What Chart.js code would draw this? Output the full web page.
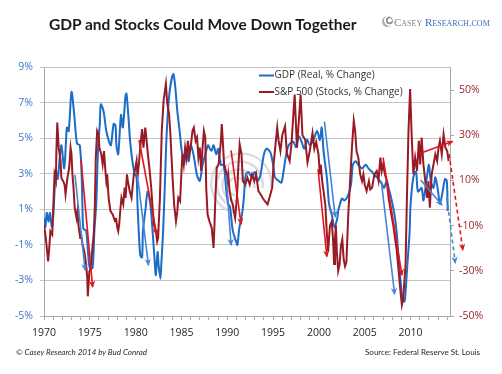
<!DOCTYPE html>
<html>
<head>
<meta charset="utf-8">
<script src="https://cdn.jsdelivr.net/npm/chart.js@4.4.0/dist/chart.umd.min.js"></script>
<style>
  html, body { margin: 0; padding: 0; background: #fff; }
  #wrap { position: relative; width: 502px; height: 374px; overflow: hidden; }
  #chart { position: absolute; left: 0; top: 0; }
  .title { position: absolute; left: 49px; top: 15px; font: bold 15.5px Lato, sans-serif; color: #1a1a1a; white-space: nowrap; }
  .logo { position: absolute; left: 382px; top: 16px; white-space: nowrap; font: 11px "Liberation Serif", serif; font-variant: small-caps; }
  .logo .swirl { display: inline-block; width: 11px; height: 11px; border-radius: 50%; vertical-align: -1px; margin-right: 1px;
    background: radial-gradient(circle at 70% 40%, #fff 0 18%, #9a9a9a 22% 38%, #fff 42% 52%, #b0b0b0 56% 100%); }
  .logo .c1 { color: #7f7f7f; }
  .logo .c2 { color: #3d6fb8; }
  .foot { position: absolute; top: 347px; font: 8px Lato, sans-serif; color: #262626; white-space: nowrap; }
  .foot.left { left: 16px; font-style: italic; }
  .foot.right { right: 22px; }
</style>
</head>
<body>
<div id="wrap">
  <canvas id="chart" width="502" height="374"></canvas>
  <div class="title">GDP and Stocks Could Move Down Together</div>
  <div class="logo"><span class="swirl"></span><span class="c1">Casey</span> <span class="c2">Research.com</span></div>
  <div class="foot left">© Casey Research 2014 by Bud Conrad</div>
  <div class="foot right">Source: Federal Reserve St. Louis</div>
</div>
<script>
"use strict";

// Values (year, % change)
const SERIES_LABELS = ["GDP (Real, % Change)", "S&P 500 (Stocks, % Change)"];

const GDP_YEARS = [
  1970.0, 1970.15, 1970.3, 1970.5, 1970.65, 1970.85, 1971.0, 1971.2, 1971.3, 1971.5,
  1971.7, 1971.9, 1972.2, 1972.4, 1972.5, 1972.7, 1973.0, 1973.3, 1973.6, 1973.9,
  1974.1, 1974.2, 1974.3, 1974.6, 1974.8, 1975.0, 1975.3, 1975.5, 1975.7, 1975.9,
  1976.1, 1976.2, 1976.5, 1976.8, 1977.1, 1977.3, 1977.6, 1977.8, 1977.9, 1978.1,
  1978.4, 1978.6, 1978.9, 1979.0, 1979.2, 1979.4, 1979.7, 1979.9, 1980.1, 1980.2,
  1980.5, 1980.7, 1980.8, 1981.1, 1981.3, 1981.6, 1981.9, 1982.1, 1982.2, 1982.4,
  1982.5, 1982.7, 1982.8, 1983.0, 1983.2, 1983.4, 1983.7, 1984.1, 1984.3, 1984.55,
  1984.8, 1985.0, 1985.3, 1985.5, 1985.8, 1986.0, 1986.3, 1986.7, 1987.0, 1987.3,
  1987.6, 1987.9, 1988.1, 1988.3, 1988.5, 1988.8, 1989.0, 1989.3, 1989.6, 1989.9,
  1990.1, 1990.3, 1990.6, 1990.95, 1991.1, 1991.3, 1991.6, 1991.8, 1992.0, 1992.3,
  1992.7, 1993.0, 1993.3, 1993.6, 1994.0, 1994.3, 1994.7, 1995.0, 1995.2, 1995.6,
  1995.9, 1996.1, 1996.4, 1996.7, 1997.2, 1997.5, 1997.8, 1998.1, 1998.4, 1998.7,
  1999.0, 1999.4, 1999.8, 2000.1, 2000.3, 2000.5, 2000.9, 2001.1, 2001.4, 2001.7,
  2002.0, 2002.1, 2002.3, 2002.5, 2002.8, 2003.2, 2003.5, 2003.7, 2004.0, 2004.3,
  2004.7, 2005.1, 2005.4, 2005.8, 2006.1, 2006.5, 2006.9, 2007.1, 2007.4, 2007.6,
  2007.9, 2008.1, 2008.3, 2008.5, 2008.7, 2008.9, 2009.1, 2009.3, 2009.4, 2009.65,
  2009.9, 2010.0, 2010.3, 2010.6, 2010.8, 2011.2, 2011.4, 2011.8, 2012.0, 2012.2,
  2012.5, 2012.7, 2013.0, 2013.2, 2013.5, 2013.75, 2013.95, 2014.05
];
const GDP_VALUES = [
  0.5, 0.0, 0.8, 0.3, 0.8, 0.0, 0.6, 2.5, 3.2, 2.7,
  3.8, 4.6, 3.3, 4.8, 5.6, 5.4, 7.6, 6.3, 4.7, 4.6,
  3.0, 1.1, -0.1, -0.2, -1.4, -2.3, -2.3, -0.2, 1.3, 4.4,
  5.9, 6.9, 6.5, 5.4, 4.8, 4.6, 5.8, 5.7, 4.6, 4.1,
  6.3, 5.6, 7.4, 7.5, 6.3, 4.8, 3.5, 3.0, 2.8, 1.3,
  -1.6, -1.7, -0.2, 1.1, 2.0, 1.3, -0.6, -2.1, -2.7, -1.4,
  -2.1, -2.9, -2.1, -0.2, 2.6, 5.4, 7.6, 8.6, 8.0, 6.5,
  5.4, 4.4, 3.5, 4.4, 3.7, 4.6, 4.1, 2.9, 2.6, 3.5,
  4.1, 4.6, 4.4, 4.3, 4.6, 4.1, 4.4, 3.5, 3.5, 2.0,
  1.3, 1.1, -0.2, -0.8, -1.0, -0.1, 0.7, 1.6, 2.9, 3.1,
  2.8, 3.1, 2.6, 2.9, 4.1, 4.4, 4.2, 3.5, 2.8, 2.6,
  2.5, 3.0, 4.0, 4.6, 4.8, 4.5, 5.1, 4.8, 4.4, 4.9,
  4.6, 4.9, 5.4, 4.9, 5.6, 4.3, 2.6, 1.3, 0.7, 0.0,
  0.5, 0.9, 1.3, 1.6, 1.5, 1.8, 2.4, 3.5, 3.7, 3.5,
  3.3, 3.5, 3.3, 3.1, 2.9, 2.7, 2.4, 2.2, 2.6, 2.2,
  1.6, 1.1, 0.5, -0.4, -1.8, -3.0, -4.0, -4.2, -4.0, -2.1,
  -0.2, 1.3, 2.8, 3.1, 2.0, 2.2, 1.5, 2.9, 3.5, 2.6,
  2.2, 2.8, 2.0, 1.3, 2.0, 2.7, 2.6, 0.9
];

const SP_YEARS = [
  1970.0, 1970.2, 1970.45, 1970.55, 1970.7, 1970.9, 1971.0, 1971.15, 1971.3, 1971.35,
  1971.45, 1971.6, 1971.8, 1971.9, 1972.1, 1972.25, 1972.35, 1972.55, 1972.75, 1972.9,
  1973.0, 1973.1, 1973.2, 1973.35, 1973.55, 1973.65, 1973.75, 1973.95, 1974.0, 1974.2,
  1974.4, 1974.6, 1974.72, 1974.78, 1974.95, 1975.1, 1975.25, 1975.45, 1975.55, 1975.65,
  1975.8, 1975.95, 1976.05, 1976.25, 1976.4, 1976.55, 1976.7, 1976.8, 1976.9, 1977.05,
  1977.25, 1977.5, 1977.75, 1977.85, 1978.0, 1978.1, 1978.2, 1978.35, 1978.45, 1978.65,
  1978.8, 1978.9, 1979.05, 1979.15, 1979.35, 1979.55, 1979.8, 1979.9, 1980.1, 1980.2,
  1980.35, 1980.5, 1980.7, 1980.85, 1981.05, 1981.2, 1981.3, 1981.5, 1981.7, 1981.8,
  1982.0, 1982.2, 1982.35, 1982.45, 1982.65, 1982.85, 1983.05, 1983.3, 1983.45, 1983.65,
  1983.8, 1983.9, 1984.05, 1984.2, 1984.4, 1984.55, 1984.65, 1984.85, 1984.95, 1985.1,
  1985.25, 1985.4, 1985.55, 1985.7, 1985.85, 1986.0, 1986.2, 1986.35, 1986.55, 1986.7,
  1986.85, 1987.0, 1987.15, 1987.3, 1987.45, 1987.6, 1987.7, 1987.85, 1988.05, 1988.3,
  1988.5, 1988.6, 1988.7, 1988.85, 1989.05, 1989.2, 1989.3, 1989.4, 1989.55, 1989.65,
  1989.85, 1990.0, 1990.1, 1990.25, 1990.45, 1990.6, 1990.7, 1990.85, 1991.05, 1991.2,
  1991.35, 1991.55, 1991.7, 1991.95, 1992.2, 1992.45, 1992.7, 1992.95, 1993.15, 1993.4,
  1993.65, 1993.85, 1994.1, 1994.4, 1994.6, 1994.9, 1995.05, 1995.3, 1995.45, 1995.6,
  1995.8, 1996.0, 1996.3, 1996.5, 1996.8, 1997.0, 1997.35, 1997.6, 1997.8, 1998.0,
  1998.2, 1998.5, 1998.75, 1999.0, 1999.3, 1999.5, 1999.7, 1999.95, 2000.1, 2000.2,
  2000.35, 2000.5, 2000.7, 2000.85, 2001.0, 2001.2, 2001.4, 2001.55, 2001.65, 2001.75,
  2001.85, 2001.95, 2002.1, 2002.25, 2002.4, 2002.55, 2002.7, 2002.85, 2003.0, 2003.2,
  2003.4, 2003.6, 2003.8, 2003.95, 2004.1, 2004.3, 2004.5, 2004.7, 2004.85, 2005.0,
  2005.2, 2005.45, 2005.6, 2005.8, 2006.05, 2006.3, 2006.5, 2006.7, 2006.85, 2007.0,
  2007.2, 2007.4, 2007.6, 2007.9, 2008.1, 2008.3, 2008.5, 2008.7, 2008.9, 2009.05,
  2009.2, 2009.45, 2009.6, 2009.77, 2009.95, 2010.1, 2010.3, 2010.5, 2010.7, 2010.9,
  2011.05, 2011.2, 2011.4, 2011.6, 2011.8, 2011.95, 2012.1, 2012.3, 2012.5, 2012.7,
  2012.9, 2013.05, 2013.2, 2013.4, 2013.6, 2013.8, 2014.0, 2014.15
];
const SP_VALUES = [
  -9.6, -15.5, -25.8, -21, -12.5, -14, -3.6, 12.7, 10, 23,
  35.6, 24.5, 19, 11, 9.7, 8, 3.8, 11, 15.6, 24.5,
  21.6, 12.7, 8, -2.1, -6.6, -3.6, -9.6, -15.5, -12.5, -18.4,
  -21.4, -27.3, -33.2, -41.3, -30.3, -28.8, -21.4, -12.5, -0.6, 20.1,
  31.9, 30.4, 24.5, 21.6, 17.1, 23, 14.2, 9.7, 12.7, 2.3,
  -3.6, -5.1, -8.1, -6.6, -11, -12.5, -9.6, -2.1, 2.3, -0.6,
  6.8, 2.3, 12.7, 9.7, 5.3, 2.3, 12.7, 14.2, 18.6, 11.2,
  17.1, 24.5, 32.7, 24.5, 33.4, 27.5, 23, 15.6, 6.8, 0.8,
  -9.6, -12.5, -17, -15.5, 2.3, 31.9, 45.3, 52.7, 44, 39.3,
  30, 21.6, 9.7, -0.6, -8.1, -3.6, 2.3, 0.8, 9.7, 21.6,
  17.1, 24.5, 20.1, 27.5, 21.6, 24.5, 31.9, 33.4, 27.5, 29,
  20.1, 24.5, 14.2, 24.5, 31.9, 29, 6.8, -5.1, -8.1, -11,
  -19.9, -9.6, 2.3, 15.6, 17.1, 23, 27.5, 34.9, 24.5, 17.1,
  14.2, 9.7, 12.7, 5.3, 0.8, -0.6, -3.6, -6.6, 2.3, 15.6,
  26, 21.6, 9.7, 8.2, 11.2, 8.2, 12.7, 9.7, 12.7, 5.3,
  3.8, 2.3, 0.8, -0.6, 2.3, 6.8, 17.1, 27.5, 33.4, 27.5,
  23, 30, 34, 22, 18.6, 26, 48, 24.5, 36, 48,
  30, 28, 18, 23, 31, 24, 27, 21.6, 12.7, 17,
  9.7, 5.3, -1, -12.5, -21.4, -10, -8.1, -16.9, -27, -16,
  -10, -21.4, -30, -27.3, -19, -16, -25, -28, -26, -5.1,
  9.7, 24.5, 36.4, 31.9, 23, 20, 12.7, 9.7, 12.7, 8.2,
  5.3, 9.7, 6, 6.8, 12.7, 14.2, 10, 20.1, 14.2, 17.1,
  12.7, 9.7, 2.3, -5.1, -9.6, -15.5, -21.4, -30.3, -39.2, -45.1,
  -42, -27.3, 2.3, 31.9, 50.4, 31.9, 12.7, 20.1, 14.2, 27.5,
  17.1, 29, 17.1, 9.7, 2.3, 9.7, -2.1, 12.7, 17.1, 21.6,
  18.6, 24.5, 27.5, 21.6, 30.4, 24.5, 23, 18.6
];

// Hand-drawn trend arrows: [fromYear, fromValue, toYear, toValue]
const RED_ARROWS = [
  [1974.04, 19.3, 1975.3, -37],
  [1980.37, 27.9, 1982.3, -14],
  [1990.41, 23.3, 1991.5, -9.2],
  [1999.9, 15, 2000.86, -23.6],
  [2007.0, 20.1, 2009.05, -31.8],
  [2011.0, 21.9, 2014.55, 27.2]
];
const RED_DASHED = [2014.2, 21.6, 2015.7, -20.7];
const BLUE_ARROWS = [
  [1973.38, 2.93, 1974.48, -2.4],
  [1980.19, 2.93, 1981.39, -2.12],
  [1989.87, 2.93, 1990.41, -1.0],
  [2000.6, 5.93, 2001.77, 0.59],
  [2006.8, 2.6, 2008.25, -3.75],
  [2011.1, 2.65, 2013.4, 1.25]
];
const BLUE_DASHED = [2013.95, 1.64, 2014.87, -2.0];

const LEFT_TICKS = [-5, -3, -1, 1, 3, 5, 7, 9];
const RIGHT_TICKS = [-50, -30, -10, 10, 30, 50];
const YEAR_LABELS = [1970, 1975, 1980, 1985, 1990, 1995, 2000, 2005, 2010];

const GDP_COLOR = "rgb(28, 108, 200)";
const SP_COLOR = "rgb(152, 26, 36)";
const RED_ARROW = "rgb(225, 22, 28)";
const BLUE_ARROW = "rgb(72, 132, 212)";

function points(xs, ys) {
  return xs.map((x, i) => ({ x: x, y: ys[i] }));
}

function arrowSet(a, color, axis, dashed) {
  return {
    label: "",
    data: [{ x: a[0], y: a[1] }, { x: a[2], y: a[3] }],
    borderColor: color,
    borderWidth: 1.6,
    borderDash: dashed ? [4, 3] : [],
    pointRadius: 0,
    tension: 0,
    yAxisID: axis,
    clip: false,
    arrow: true
  };
}

const datasets = [];
RED_ARROWS.forEach(a => datasets.push(arrowSet(a, RED_ARROW, "yRight", false)));
datasets.push(arrowSet(RED_DASHED, RED_ARROW, "yRight", true));
BLUE_ARROWS.forEach(a => datasets.push(arrowSet(a, BLUE_ARROW, "yLeft", false)));
datasets.push(arrowSet(BLUE_DASHED, BLUE_ARROW, "yLeft", true));
datasets.push({
  label: SERIES_LABELS[1],
  data: points(SP_YEARS, SP_VALUES),
  borderColor: SP_COLOR,
  borderWidth: 2,
  pointRadius: 0,
  tension: 0,
  yAxisID: "yRight"
});
datasets.push({
  label: SERIES_LABELS[0],
  data: points(GDP_YEARS, GDP_VALUES),
  borderColor: GDP_COLOR,
  borderWidth: 2,
  pointRadius: 0,
  tension: 0.3,
  yAxisID: "yLeft"
});

// watermark swirl behind the lines
const swirl = {
  id: "swirl",
  beforeDatasetsDraw(chart) {
    const { ctx, chartArea: a } = chart;
    const cx = a.left + (a.right - a.left) * 0.475;
    const cy = a.top + (a.bottom - a.top) * 0.48;
    ctx.save();
    ctx.strokeStyle = "rgba(205, 205, 218, 0.7)";
    ctx.lineWidth = 2.5;
    [9, 16, 23, 30].forEach((r, i) => {
      ctx.beginPath();
      ctx.arc(cx + i * 1.5, cy - i, r, Math.PI * 0.55, Math.PI * 2.05);
      ctx.stroke();
    });
    ctx.restore();
  }
};

// arrow heads and the in-plot legend
const overlay = {
  id: "overlay",
  afterDatasetsDraw(chart) {
    const { ctx, chartArea: a } = chart;
    ctx.save();
    chart.data.datasets.forEach((ds, i) => {
      if (!ds.arrow) return;
      const pts = chart.getDatasetMeta(i).data;
      const p0 = pts[0], p1 = pts[1];
      const ang = Math.atan2(p1.y - p0.y, p1.x - p0.x);
      const len = 6, w = 3.2;
      ctx.fillStyle = ds.borderColor;
      ctx.beginPath();
      ctx.moveTo(p1.x + Math.cos(ang) * 1.5, p1.y + Math.sin(ang) * 1.5);
      ctx.lineTo(p1.x - Math.cos(ang) * len + Math.sin(ang) * w, p1.y - Math.sin(ang) * len - Math.cos(ang) * w);
      ctx.lineTo(p1.x - Math.cos(ang) * len * 0.6, p1.y - Math.sin(ang) * len * 0.6);
      ctx.lineTo(p1.x - Math.cos(ang) * len - Math.sin(ang) * w, p1.y - Math.sin(ang) * len + Math.cos(ang) * w);
      ctx.closePath();
      ctx.fill();
    });

    const colors = [GDP_COLOR, SP_COLOR];
    ctx.font = "10px 'Open Sans', sans-serif";
    ctx.textBaseline = "middle";
    SERIES_LABELS.forEach((label, i) => {
      const y = a.top + 8.5 + i * 16.5;
      const x = a.left + 215;
      ctx.strokeStyle = colors[i];
      ctx.lineWidth = 2;
      ctx.beginPath();
      ctx.moveTo(x, y);
      ctx.lineTo(x + 15, y);
      ctx.stroke();
      ctx.fillStyle = "#333";
      ctx.fillText(label, x + 15.5, y);
    });
    ctx.restore();
  }
};

Chart.defaults.font.family = "'Open Sans', sans-serif";
Chart.defaults.font.size = 10;

const config = {
  type: "line",
  data: { datasets: datasets },
  options: {
    responsive: false,
    animation: false,
    layout: { padding: { top: 67, left: 0, right: 0, bottom: 0 } },
    plugins: {
      legend: { display: false },
      tooltip: { enabled: false }
    },
    scales: {
      x: {
        type: "linear",
        min: 1970,
        max: 2014.3,
        afterFit: s => { s.height = 58; },
        afterBuildTicks: s => {
          const t = [];
          for (let y = 1970; y <= 2014; y++) t.push({ value: y });
          s.ticks = t;
        },
        ticks: {
          autoSkip: false,
          maxRotation: 0,
          padding: 7,
          color: "#262626",
          font: { size: 10.5 },
          callback: v => (YEAR_LABELS.includes(v) ? String(v) : "")
        },
        grid: { drawOnChartArea: false, tickLength: 4, color: "#a6a6a6" },
        border: { color: "#a6a6a6" }
      },
      yLeft: {
        type: "linear",
        position: "left",
        min: -5,
        max: 9,
        afterFit: s => { s.width = 44; },
        afterBuildTicks: s => { s.ticks = LEFT_TICKS.map(v => ({ value: v })); },
        ticks: {
          padding: 7,
          color: "rgb(64, 118, 200)",
          font: { size: 10.5 },
          callback: v => v + "%"
        },
        grid: { color: "#c4c4c4", tickLength: 4 },
        border: { color: "#a6a6a6" }
      },
      yRight: {
        type: "linear",
        position: "right",
        min: -50,
        max: 60.2,
        afterFit: s => { s.width = 52; },
        afterBuildTicks: s => { s.ticks = RIGHT_TICKS.map(v => ({ value: v })); },
        ticks: {
          padding: 5,
          color: "rgb(155, 36, 44)",
          font: { size: 10.5 },
          callback: v => v + "%"
        },
        grid: { drawOnChartArea: false, tickLength: 4, color: "#a6a6a6" },
        border: { color: "#a6a6a6" }
      }
    }
  },
  plugins: [swirl, overlay]
};

window.onload = function() {
  const ctx = document.getElementById("chart").getContext("2d");
  window.gdpChart = new Chart(ctx, config);
};
</script>
</body>
</html>
